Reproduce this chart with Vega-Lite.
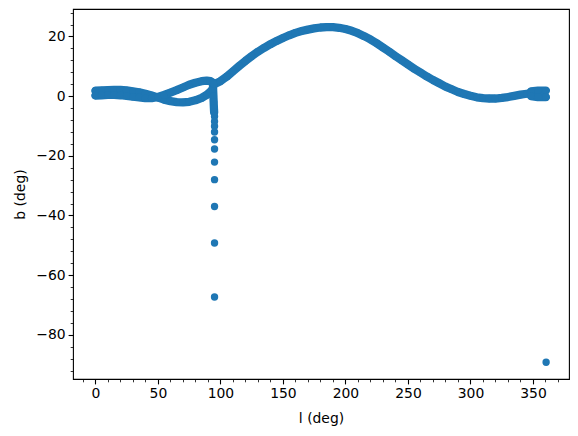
{
  "$schema": "https://vega.github.io/schema/vega-lite/v6.json",
  "width": 496,
  "height": 370,
  "autosize": {"type": "none"},
  "padding": {"left": 73, "top": 9, "right": 9, "bottom": 57},
  "background": "white",
  "config": {
    "view": {"stroke": "black", "strokeWidth": 1.1},
    "font": "DejaVu Sans"
  },
  "data": {
    "values": [
      {"l": 0, "b": 1.8, "s": "a"}, {"l": 5, "b": 1.9, "s": "a"}, {"l": 10, "b": 2.0, "s": "a"}, {"l": 15, "b": 2.1, "s": "a"}, {"l": 20, "b": 2.1, "s": "a"}, {"l": 25, "b": 1.9, "s": "a"}, {"l": 30, "b": 1.6, "s": "a"}, {"l": 35, "b": 1.3, "s": "a"}, {"l": 40, "b": 0.8, "s": "a"}, {"l": 45, "b": 0.2, "s": "a"}, {"l": 48, "b": -0.2, "s": "a"}, {"l": 51, "b": -0.6, "s": "a"}, {"l": 55, "b": -1.2, "s": "a"}, {"l": 60, "b": -1.7, "s": "a"}, {"l": 65, "b": -2.0, "s": "a"}, {"l": 70, "b": -2.1, "s": "a"}, {"l": 75, "b": -1.9, "s": "a"}, {"l": 80, "b": -1.4, "s": "a"}, {"l": 85, "b": -0.6, "s": "a"}, {"l": 89, "b": 0.4, "s": "a"}, {"l": 92, "b": 1.5, "s": "a"}, {"l": 94, "b": 2.5, "s": "a"},
      {"l": 0, "b": 0.2, "s": "b"}, {"l": 5, "b": 0.3, "s": "b"}, {"l": 10, "b": 0.4, "s": "b"}, {"l": 15, "b": 0.4, "s": "b"}, {"l": 20, "b": 0.3, "s": "b"}, {"l": 25, "b": 0.1, "s": "b"}, {"l": 30, "b": -0.2, "s": "b"}, {"l": 35, "b": -0.4, "s": "b"}, {"l": 40, "b": -0.7, "s": "b"}, {"l": 45, "b": -0.7, "s": "b"}, {"l": 50, "b": -0.3, "s": "b"}, {"l": 55, "b": 0.4, "s": "b"}, {"l": 60, "b": 1.2, "s": "b"}, {"l": 65, "b": 2.0, "s": "b"}, {"l": 70, "b": 2.9, "s": "b"}, {"l": 75, "b": 3.8, "s": "b"}, {"l": 80, "b": 4.5, "s": "b"}, {"l": 85, "b": 5.0, "s": "b"}, {"l": 89, "b": 5.2, "s": "b"}, {"l": 92, "b": 5.0, "s": "b"}, {"l": 94, "b": 4.4, "s": "b"}, {"l": 95, "b": 4.0, "s": "b"},
      {"l": 94, "b": 4.5, "s": "v"}, {"l": 94.2, "b": 2, "s": "v"}, {"l": 94.4, "b": 0, "s": "v"}, {"l": 94.6, "b": -2, "s": "v"}, {"l": 94.8, "b": -4, "s": "v"}, {"l": 95, "b": -5.5, "s": "v"},
      {"l": 95, "b": 4.0, "s": "m"}, {"l": 100, "b": 5.0, "s": "m"}, {"l": 105, "b": 6.5, "s": "m"}, {"l": 110, "b": 8.3, "s": "m"}, {"l": 115, "b": 10.1, "s": "m"}, {"l": 120, "b": 11.8, "s": "m"}, {"l": 125, "b": 13.4, "s": "m"}, {"l": 130, "b": 14.9, "s": "m"}, {"l": 135, "b": 16.2, "s": "m"}, {"l": 140, "b": 17.4, "s": "m"}, {"l": 145, "b": 18.5, "s": "m"}, {"l": 150, "b": 19.5, "s": "m"}, {"l": 155, "b": 20.4, "s": "m"}, {"l": 160, "b": 21.2, "s": "m"}, {"l": 165, "b": 21.8, "s": "m"}, {"l": 170, "b": 22.3, "s": "m"}, {"l": 175, "b": 22.7, "s": "m"}, {"l": 180, "b": 23.0, "s": "m"}, {"l": 185, "b": 23.1, "s": "m"}, {"l": 190, "b": 23.1, "s": "m"}, {"l": 195, "b": 22.9, "s": "m"}, {"l": 200, "b": 22.5, "s": "m"}, {"l": 205, "b": 21.9, "s": "m"}, {"l": 210, "b": 21.1, "s": "m"}, {"l": 215, "b": 20.1, "s": "m"}, {"l": 220, "b": 19.0, "s": "m"}, {"l": 225, "b": 17.7, "s": "m"}, {"l": 230, "b": 16.3, "s": "m"}, {"l": 235, "b": 14.9, "s": "m"}, {"l": 240, "b": 13.4, "s": "m"}, {"l": 245, "b": 12.0, "s": "m"}, {"l": 250, "b": 10.6, "s": "m"}, {"l": 255, "b": 9.2, "s": "m"}, {"l": 260, "b": 7.9, "s": "m"}, {"l": 265, "b": 6.6, "s": "m"}, {"l": 270, "b": 5.4, "s": "m"}, {"l": 275, "b": 4.3, "s": "m"}, {"l": 280, "b": 3.2, "s": "m"}, {"l": 285, "b": 2.3, "s": "m"}, {"l": 290, "b": 1.4, "s": "m"}, {"l": 295, "b": 0.7, "s": "m"}, {"l": 300, "b": 0.1, "s": "m"}, {"l": 305, "b": -0.4, "s": "m"}, {"l": 310, "b": -0.7, "s": "m"}, {"l": 315, "b": -0.8, "s": "m"}, {"l": 320, "b": -0.8, "s": "m"}, {"l": 325, "b": -0.6, "s": "m"}, {"l": 330, "b": -0.3, "s": "m"}, {"l": 335, "b": 0.1, "s": "m"}, {"l": 340, "b": 0.5, "s": "m"}, {"l": 345, "b": 0.8, "s": "m"}, {"l": 348, "b": 1.0, "s": "m"},
      {"l": 348.5, "b": 1.6, "s": "e1"}, {"l": 354, "b": 1.85, "s": "e1"}, {"l": 360.3, "b": 1.85, "s": "e1"},
      {"l": 348.5, "b": 0.0, "s": "e2"}, {"l": 354, "b": -0.35, "s": "e2"}, {"l": 360.3, "b": -0.35, "s": "e2"},
      {"l": 95.3, "b": -6.8, "s": "dot"}, {"l": 95.3, "b": -8.5, "s": "dot"}, {"l": 95.3, "b": -10.1, "s": "dot"}, {"l": 95.3, "b": -12.0, "s": "dot"}, {"l": 95.3, "b": -14.6, "s": "dot"}, {"l": 95.3, "b": -17.7, "s": "dot"}, {"l": 95.3, "b": -22.1, "s": "dot"}, {"l": 95.3, "b": -28.0, "s": "dot"}, {"l": 95.3, "b": -37.0, "s": "dot"}, {"l": 95.3, "b": -49.2, "s": "dot"}, {"l": 95.3, "b": -67.3, "s": "dot"}, {"l": 360.5, "b": -89.2, "s": "dot"}
    ]
  },
  "resolve": {"axis": {"x": "independent", "y": "independent"}},
  "layer": [
    {
      "transform": [{"filter": "datum.s !== 'dot'"}],
      "mark": {"type": "line", "color": "#1f77b4", "strokeWidth": 8.3, "strokeCap": "round", "strokeJoin": "round", "clip": true},
      "encoding": {
        "x": {"field": "l", "type": "quantitative", "scale": {"domain": [-17.9, 378.8], "nice": false, "zero": false},
          "axis": {"orient": "bottom", "values": [0, 50, 100, 150, 200, 250, 300, 350], "title": "l (deg)", "grid": false, "domain": false,
            "tickSize": 4.9, "tickWidth": 1.1, "tickColor": "black", "labelFont": "DejaVu Sans", "labelFontSize": 13.9, "labelColor": "black", "labelPadding": 3,
            "titleFont": "DejaVu Sans", "titleFontSize": 13.9, "titleFontWeight": "normal", "titleColor": "black", "titlePadding": 11}},
        "y": {"field": "b", "type": "quantitative", "scale": {"domain": [-94.8, 29.2], "nice": false, "zero": false},
          "axis": {"orient": "left", "values": [-80, -60, -40, -20, 0, 20], "title": "b (deg)", "grid": false, "domain": false,
            "tickSize": 4.9, "tickWidth": 1.1, "tickColor": "black", "labelFont": "DejaVu Sans", "labelFontSize": 13.9, "labelColor": "black", "labelPadding": 3,
            "titleFont": "DejaVu Sans", "titleFontSize": 13.9, "titleFontWeight": "normal", "titleColor": "black", "titlePadding": 8}},
        "detail": {"field": "s"}
      }
    },
    {
      "mark": {"type": "circle", "color": "#1f77b4", "opacity": 1, "size": 54.5, "clip": true},
      "encoding": {
        "x": {"field": "l", "type": "quantitative", "axis": null},
        "y": {"field": "b", "type": "quantitative", "axis": null}
      }
    },
    {
      "mark": {"type": "circle", "opacity": 0, "size": 1},
      "encoding": {
        "x": {"field": "l", "type": "quantitative",
          "axis": {"orient": "bottom", "values": [-10, 10, 20, 30, 40, 60, 70, 80, 90, 110, 120, 130, 140, 160, 170, 180, 190, 210, 220, 230, 240, 260, 270, 280, 290, 310, 320, 330, 340, 360, 370], "labels": false, "title": null, "grid": false, "domain": false, "tickSize": 2.8, "tickWidth": 0.8, "tickColor": "black"}},
        "y": {"field": "b", "type": "quantitative",
          "axis": {"orient": "left", "values": [-92, -88, -84, -76, -72, -68, -64, -56, -52, -48, -44, -36, -32, -28, -24, -16, -12, -8, -4, 4, 8, 12, 16, 24, 28], "labels": false, "title": null, "grid": false, "domain": false, "tickSize": 2.8, "tickWidth": 0.8, "tickColor": "black"}}
      }
    }
  ]
}
